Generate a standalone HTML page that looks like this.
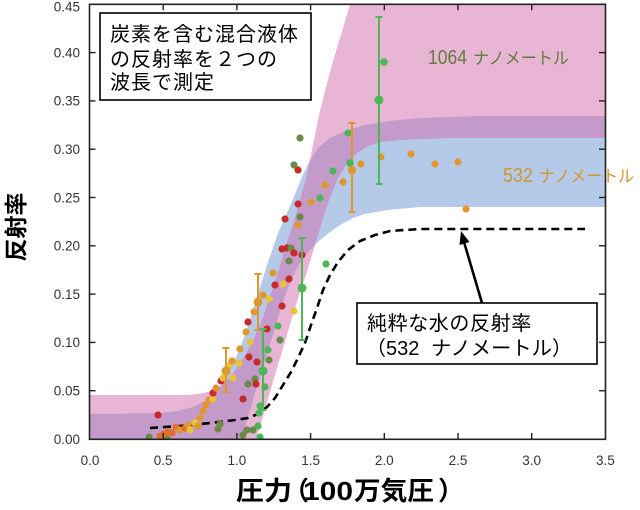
<!DOCTYPE html>
<html>
<head>
<meta charset="utf-8">
<style>
html,body{margin:0;padding:0;background:#fff;}
svg{display:block;}
text{font-family:"Liberation Sans","Noto Sans CJK JP",sans-serif;}
.tk{font-size:13.5px;fill:#333;}
.r{fill:#c62a2a}.o{fill:#6a8a46}.or{fill:#e0982e}.y{fill:#e8c33a}.g{fill:#4db757}.rr{fill:#e06e2c}
</style>
</head>
<body>
<svg width="640" height="510" viewBox="0 0 640 510" xmlns="http://www.w3.org/2000/svg">
<defs>
<clipPath id="plot"><rect x="89.5" y="4.3" width="516" height="435"/></clipPath>
<clipPath id="pinkclip"><path d="M89,395 L185,395 L198,394 L208,392 L216,389 L223,384 L230,377 L237,368 L245,355 L252,342 L258,330 L263,317 L268,302 L272,290 L276,278 L281,263 L285,248 L290,234 L295,218 L300,200 L304,185 L308,170 L311,155 L315,135 L319,115 L324,95 L330,72 L337,48 L344,25 L350,4 L356,-20 L610,-20 L610,138 L450,138 L400,140 L380,142 L368,146 L357,153 L347,163 L338,178 L331,195 L325,212 L320,228 L315,245 L310,262 L306,275 L300,292 L295,308 L289,328 L284,345 L278,365 L272,385 L267,403 L262,420 L256,439 L254,445 L89,445 Z"/></clipPath>
</defs>

<g clip-path="url(#plot)">
<path fill="#e8b5d5" d="M89,395 L185,395 L198,394 L208,392 L216,389 L223,384 L230,377 L237,368 L245,355 L252,342 L258,330 L263,317 L268,302 L272,290 L276,278 L281,263 L285,248 L290,234 L295,218 L300,200 L304,185 L308,170 L311,155 L315,135 L319,115 L324,95 L330,72 L337,48 L344,25 L350,4 L356,-20 L610,-20 L610,138 L450,138 L400,140 L380,142 L368,146 L357,153 L347,163 L338,178 L331,195 L325,212 L320,228 L315,245 L310,262 L306,275 L300,292 L295,308 L289,328 L284,345 L278,365 L272,385 L267,403 L262,420 L256,439 L254,445 L89,445 Z"/>
<path fill="#b5c9e8" d="M89,414 L160,413 L178,411 L193,407 L207,400 L215,393 L222,385 L230,370 L237,355 L245,335 L250,320 L255,302 L259,290 L263,278 L268,262 L273,248 L278,233 L284,220 L290,206 L296,192 L302,177 L309,162 L318,148 L330,138 L345,131 L365,125 L390,121 L420,118 L480,116 L610,116 L610,207 L420,207 L387,210 L365,214 L353,218 L340,225 L330,232 L320,240 L312,248 L305,256 L298,266 L292,278 L287,290 L281,308 L275,328 L268,350 L262,370 L256,390 L250,410 L245,427 L242,439 L240,445 L89,445 Z"/>
<path fill="#c39aca" clip-path="url(#pinkclip)" d="M89,414 L160,413 L178,411 L193,407 L207,400 L215,393 L222,385 L230,370 L237,355 L245,335 L250,320 L255,302 L259,290 L263,278 L268,262 L273,248 L278,233 L284,220 L290,206 L296,192 L302,177 L309,162 L318,148 L330,138 L345,131 L365,125 L390,121 L420,118 L480,116 L610,116 L610,207 L420,207 L387,210 L365,214 L353,218 L340,225 L330,232 L320,240 L312,248 L305,256 L298,266 L292,278 L287,290 L281,308 L275,328 L268,350 L262,370 L256,390 L250,410 L245,427 L242,439 L240,445 L89,445 Z"/>

<path fill="none" stroke="#000" stroke-width="2.6" stroke-dasharray="8,5" d="M150,428 L180,426 L210,423 L235,420 L248,418 L258,414 L267,407 L275,398 L283,385 L291,372 L298,358 L305,343 L311,325 L317,308 L323,290 L330,275 L338,262 L348,250 L360,241 L375,235 L390,231 L420,229 L585,229"/>

<g>
<circle class="o" cx="149" cy="437" r="3.6"/>
<circle class="o" cx="167" cy="439" r="3.6"/>
<circle class="r" cx="158" cy="415" r="3.6"/>
<circle class="rr" cx="160" cy="436" r="3.6"/>
<circle class="rr" cx="164" cy="434" r="3.6"/>
<circle class="rr" cx="168" cy="432" r="3.6"/>
<circle class="rr" cx="172" cy="433" r="3.6"/>
<circle class="rr" cx="176" cy="427" r="3.6"/>
<circle class="or" cx="180" cy="430" r="3.6"/>
<circle class="rr" cx="185" cy="428" r="3.6"/>
<circle class="or" cx="188" cy="425" r="3.6"/>
<circle class="y" cx="190" cy="430" r="3.6"/>
<circle class="y" cx="195" cy="423" r="3.6"/>
<circle class="or" cx="198" cy="426" r="3.6"/>
<circle class="or" cx="200" cy="418" r="3.6"/>
<circle class="or" cx="203" cy="411" r="3.6"/>
<circle class="or" cx="206" cy="405" r="3.6"/>
<circle class="or" cx="209" cy="400" r="3.6"/>
<circle class="y" cx="213" cy="399" r="3.6"/>
<circle class="r" cx="213" cy="393" r="3.6"/>
<circle class="or" cx="216" cy="388" r="3.6"/>
<circle class="o" cx="218" cy="429" r="3.6"/>
<circle class="o" cx="220" cy="424" r="3.6"/>
<circle class="r" cx="221" cy="381" r="3.6"/>
<circle class="y" cx="223" cy="378" r="3.6"/>
<circle class="y" cx="229" cy="366" r="3.6"/>
<circle class="or" cx="232" cy="361" r="3.6"/>
<circle class="y" cx="233" cy="378" r="3.6"/>
<circle class="y" cx="239" cy="363" r="3.6"/>
<circle class="or" cx="240" cy="349" r="3.6"/>
<circle class="r" cx="243" cy="399" r="3.6"/>
<circle class="o" cx="243" cy="435" r="3.6"/>
<circle class="o" cx="247" cy="430" r="3.6"/>
<circle class="or" cx="246" cy="332" r="3.6"/>
<circle class="y" cx="250" cy="342" r="3.6"/>
<circle class="r" cx="248" cy="322" r="3.6"/>
<circle class="r" cx="249" cy="357" r="3.6"/>
<circle class="o" cx="248" cy="384" r="3.6"/>
<circle class="o" cx="253" cy="430" r="3.6"/>
<circle class="or" cx="254" cy="312" r="3.6"/>
<circle class="o" cx="255" cy="379" r="3.6"/>
<circle class="r" cx="256" cy="384" r="3.6"/>
<circle class="r" cx="257" cy="362" r="3.6"/>
<circle class="g" cx="258" cy="426" r="3.6"/>
<circle class="g" cx="259" cy="413" r="3.6"/>
<circle class="g" cx="260" cy="406" r="3.6"/>
<circle class="g" cx="260" cy="437" r="3.6"/>
<circle class="g" cx="265" cy="387" r="3.6"/>
<circle class="or" cx="263" cy="295" r="3.6"/>
<circle class="r" cx="267" cy="329" r="3.6"/>
<circle class="g" cx="268" cy="350" r="3.6"/>
<circle class="o" cx="269" cy="360" r="3.6"/>
<circle class="y" cx="269" cy="299" r="3.6"/>
<circle class="or" cx="273" cy="273" r="3.6"/>
<circle class="r" cx="275" cy="285" r="3.6"/>
<circle class="g" cx="278" cy="326" r="3.6"/>
<circle class="o" cx="280" cy="340" r="3.6"/>
<circle class="y" cx="283" cy="284" r="3.6"/>
<circle class="r" cx="282" cy="306" r="3.6"/>
<circle class="r" cx="289" cy="279" r="3.6"/>
<circle class="y" cx="294" cy="311" r="3.6"/>
<circle class="r" cx="282" cy="249" r="3.6"/>
<circle class="r" cx="287" cy="248" r="3.6"/>
<circle class="o" cx="291" cy="248" r="3.6"/>
<circle class="r" cx="294" cy="253" r="3.6"/>
<circle class="r" cx="302" cy="255" r="3.6"/>
<circle class="o" cx="289" cy="261" r="3.6"/>
<circle class="r" cx="285" cy="219" r="3.6"/>
<circle class="o" cx="300" cy="217" r="3.6"/>
<circle class="or" cx="298" cy="225" r="3.6"/>
<circle class="r" cx="298" cy="204" r="3.6"/>
<circle class="r" cx="298" cy="170" r="3.6"/>
<circle class="o" cx="294" cy="165" r="3.6"/>
<circle class="o" cx="300" cy="138" r="3.6"/>
<circle class="or" cx="311" cy="202" r="3.6"/>
<circle class="g" cx="320" cy="198" r="3.6"/>
<circle class="or" cx="325" cy="185" r="3.6"/>
<circle class="g" cx="326" cy="264" r="3.6"/>
<circle class="g" cx="333" cy="171" r="3.6"/>
<circle class="or" cx="343" cy="182" r="3.6"/>
<circle class="g" cx="348" cy="133" r="3.6"/>
<circle class="or" cx="361" cy="164" r="3.6"/>
<circle class="or" cx="381" cy="157" r="3.6"/>
<circle class="or" cx="411" cy="154" r="3.6"/>
<circle class="or" cx="435" cy="164" r="3.6"/>
<circle class="or" cx="458" cy="162" r="3.6"/>
<circle class="or" cx="466" cy="209" r="3.6"/>
<circle class="g" cx="384" cy="62" r="3.8"/>
</g>

<g stroke-width="2" fill="none">
<g stroke="#e0962e">
<line x1="226" y1="348" x2="226" y2="392"/><line x1="222.5" y1="348" x2="229.5" y2="348"/><line x1="222.5" y1="392" x2="229.5" y2="392"/>
<line x1="258" y1="274" x2="258" y2="330"/><line x1="254.5" y1="274" x2="261.5" y2="274"/><line x1="254.5" y1="330" x2="261.5" y2="330"/>
<line x1="352" y1="123" x2="352" y2="212"/><line x1="348.5" y1="123" x2="355.5" y2="123"/><line x1="348.5" y1="212" x2="355.5" y2="212"/>
</g>
<g stroke="#4db757">
<line x1="263" y1="329" x2="263" y2="410"/><line x1="259.5" y1="329" x2="266.5" y2="329"/><line x1="259.5" y1="410" x2="266.5" y2="410"/>
<line x1="302" y1="238" x2="302" y2="340"/><line x1="298.5" y1="238" x2="305.5" y2="238"/><line x1="298.5" y1="340" x2="305.5" y2="340"/>
<line x1="379" y1="17" x2="379" y2="184"/><line x1="375.5" y1="17" x2="382.5" y2="17"/><line x1="375.5" y1="184" x2="382.5" y2="184"/>
</g>
</g>
<circle class="or" cx="226" cy="371" r="4.5"/>
<circle class="or" cx="258" cy="302" r="4.5"/>
<circle class="g" cx="263" cy="371" r="4.5"/>
<circle class="g" cx="302" cy="288" r="4.5"/>
<circle class="or" cx="352" cy="170" r="4.3"/>
<circle class="g" cx="350" cy="163" r="3.8"/>
<circle class="g" cx="379" cy="100" r="4.5"/>
</g>

<rect x="89.5" y="4.3" width="516" height="435" fill="none" stroke="#222" stroke-width="1.6"/>
<g stroke="#222" stroke-width="1.4">
<line x1="163.2" y1="439" x2="163.2" y2="433"/><line x1="236.9" y1="439" x2="236.9" y2="433"/><line x1="310.6" y1="439" x2="310.6" y2="433"/><line x1="384.3" y1="439" x2="384.3" y2="433"/><line x1="458" y1="439" x2="458" y2="433"/><line x1="531.7" y1="439" x2="531.7" y2="433"/>
<line x1="163.2" y1="4.3" x2="163.2" y2="10.3"/><line x1="236.9" y1="4.3" x2="236.9" y2="10.3"/><line x1="310.6" y1="4.3" x2="310.6" y2="10.3"/><line x1="384.3" y1="4.3" x2="384.3" y2="10.3"/><line x1="458" y1="4.3" x2="458" y2="10.3"/><line x1="531.7" y1="4.3" x2="531.7" y2="10.3"/>
<line x1="89.5" y1="390.7" x2="95.5" y2="390.7"/><line x1="89.5" y1="342.4" x2="95.5" y2="342.4"/><line x1="89.5" y1="294.1" x2="95.5" y2="294.1"/><line x1="89.5" y1="245.8" x2="95.5" y2="245.8"/><line x1="89.5" y1="197.5" x2="95.5" y2="197.5"/><line x1="89.5" y1="149.2" x2="95.5" y2="149.2"/><line x1="89.5" y1="100.9" x2="95.5" y2="100.9"/><line x1="89.5" y1="52.6" x2="95.5" y2="52.6"/>
<line x1="605.5" y1="390.7" x2="599" y2="390.7"/><line x1="605.5" y1="342.4" x2="599" y2="342.4"/><line x1="605.5" y1="294.1" x2="599" y2="294.1"/><line x1="605.5" y1="245.8" x2="599" y2="245.8"/><line x1="605.5" y1="197.5" x2="599" y2="197.5"/><line x1="605.5" y1="149.2" x2="599" y2="149.2"/><line x1="605.5" y1="100.9" x2="599" y2="100.9"/><line x1="605.5" y1="52.6" x2="599" y2="52.6"/>
</g>

<g class="tk" text-anchor="end">
<text x="80" y="443.8">0.00</text>
<text x="80" y="395.5">0.05</text>
<text x="80" y="347.2">0.10</text>
<text x="80" y="298.9">0.15</text>
<text x="80" y="250.6">0.20</text>
<text x="80" y="202.3">0.25</text>
<text x="80" y="154">0.30</text>
<text x="80" y="105.7">0.35</text>
<text x="80" y="57.4">0.40</text>
<text x="80" y="11.5">0.45</text>
</g>
<g class="tk" text-anchor="middle">
<text x="90" y="465">0.0</text>
<text x="163.2" y="465">0.5</text>
<text x="236.9" y="465">1.0</text>
<text x="310.6" y="465">1.5</text>
<text x="384.3" y="465">2.0</text>
<text x="458" y="465">2.5</text>
<text x="531.7" y="465">3.0</text>
<text x="605.4" y="465">3.5</text>
</g>

<text transform="translate(24,227) rotate(-90)" text-anchor="middle" font-size="23" font-weight="bold" fill="#000">反射率</text>
<g font-weight="bold" fill="#000" font-size="26">
<text x="236" y="500" textLength="56" lengthAdjust="spacingAndGlyphs">圧力</text>
<text x="283" y="500">（</text>
<text x="303" y="500" textLength="50" lengthAdjust="spacingAndGlyphs">100</text>
<text x="354" y="500" textLength="80" lengthAdjust="spacingAndGlyphs">万気圧</text>
<text x="438" y="500">）</text>
</g>

<text x="428" y="64" font-size="20" fill="#5f7d3b" textLength="39" lengthAdjust="spacingAndGlyphs">1064</text>
<text x="473" y="64" font-size="17" fill="#5f7d3b" textLength="96" lengthAdjust="spacingAndGlyphs">ナノメートル</text>
<text x="503" y="182" font-size="20" fill="#d4962e" textLength="30" lengthAdjust="spacingAndGlyphs">532</text>
<text x="539" y="182" font-size="17" fill="#d4962e" textLength="95" lengthAdjust="spacingAndGlyphs">ナノメートル</text>

<rect x="100" y="13" width="211" height="87" fill="#fff" stroke="#000" stroke-width="1.6"/>
<g font-size="20" fill="#000" letter-spacing="1">
<text x="110" y="41">炭素を含む混合液体</text>
<text x="110" y="66">の反射率を２つの</text>
<text x="110" y="89">波長で測定</text>
</g>

<line x1="482" y1="303" x2="464" y2="242" stroke="#000" stroke-width="2.6"/>
<polygon points="461,231 469.5,242 459.5,245" fill="#000"/>

<rect x="357" y="303" width="240" height="61" fill="#fff" stroke="#000" stroke-width="1.6"/>
<g font-size="20" fill="#000">
<text x="367" y="330" letter-spacing="0.6">純粋な水の反射率</text>
<text x="366" y="355">（</text>
<text x="386" y="355">532</text>
<text x="431" y="355" textLength="121" lengthAdjust="spacingAndGlyphs">ナノメートル</text>
<text x="552" y="355">）</text>
</g>
</svg>
</body>
</html>
